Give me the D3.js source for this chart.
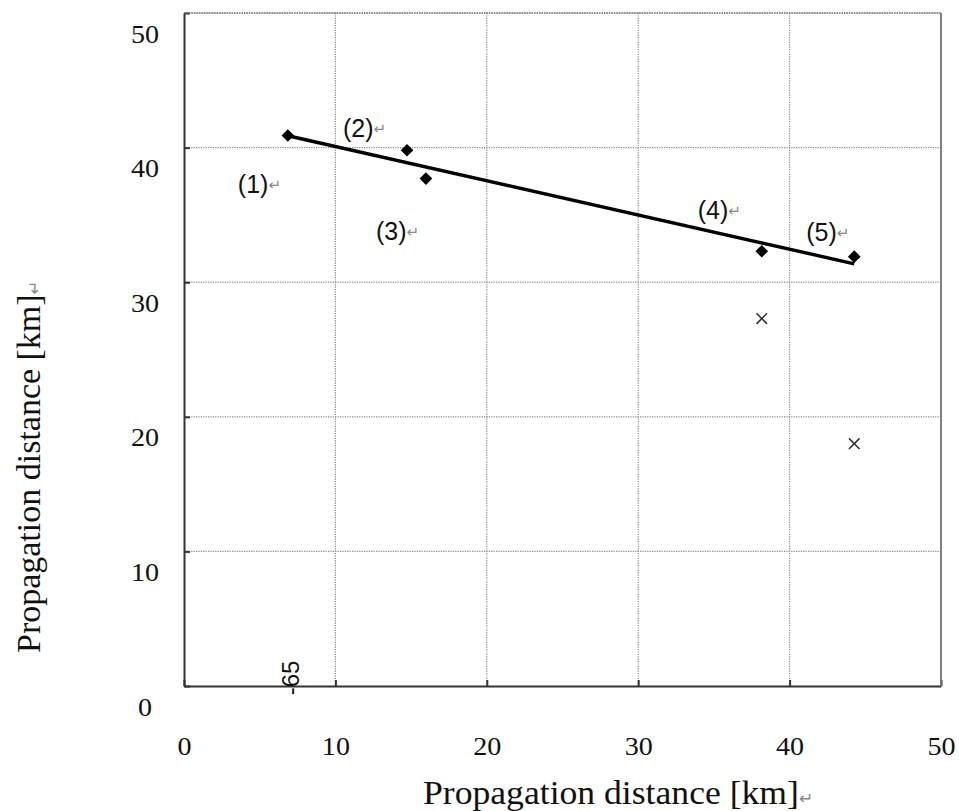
<!DOCTYPE html>
<html>
<head>
<meta charset="utf-8">
<script src="https://cdn.jsdelivr.net/npm/d3@7"></script>
<style>
  html, body { margin: 0; padding: 0; background: #fff; }
  svg { display: block; }
</style>
</head>
<body>
<script>
// Measured points (1)–(5) and the two reference points marked with ×
const pointLabels = ["(1)", "(2)", "(3)", "(4)", "(5)"];
const measuredX = [6.86, 14.73, 15.98, 38.16, 44.27];
const measuredY = [40.9, 39.8, 37.7, 32.3, 31.9];
const crossX = [38.16, 44.27];
const crossY = [27.3, 18.0];
const xTicks = [0, 10, 20, 30, 40, 50];
const yTicks = [0, 10, 20, 30, 40, 50];
const xTitle = "Propagation distance [km]";
const yTitle = "Propagation distance [km]";
const strayLabel = "-65";

const W = 959, H = 811;
const margin = { left: 184, right: 18, top: 13, bottom: 125 };
const sx = 1.08; // horizontal stretch of the text glyphs

const svg = d3.select("body").append("svg").attr("width", W).attr("height", H);

const x = d3.scaleLinear().domain([0, 50]).range([margin.left, W - margin.right]);
const y = d3.scaleLinear().domain([0, 50]).range([H - margin.bottom, margin.top]);

const serif = "'Liberation Serif', 'Times New Roman', serif";
const sans = "'Liberation Sans', Arial, sans-serif";

// dotted grid
const grid = svg.append("g").attr("stroke", "#8a8a8a").attr("stroke-width", 1.2)
  .attr("stroke-dasharray", "1.2,1.2");
grid.selectAll("line.v").data(xTicks.slice(1)).join("line")
  .attr("x1", d => x(d)).attr("x2", d => x(d))
  .attr("y1", y(50)).attr("y2", y(0));
grid.selectAll("line.h").data(yTicks.slice(1)).join("line")
  .attr("x1", x(0)).attr("x2", x(50))
  .attr("y1", d => y(d)).attr("y2", d => y(d));

// axes with short inward ticks
const xAxis = svg.append("g").attr("transform", `translate(0,${y(0)})`)
  .call(d3.axisBottom(x).tickValues(xTicks).tickSize(-6).tickSizeOuter(0));
const yAxis = svg.append("g").attr("transform", `translate(${x(0)},0)`)
  .call(d3.axisLeft(y).tickValues(yTicks).tickSize(-6).tickSizeOuter(0));

[xAxis, yAxis].forEach(a => {
  a.select(".domain").attr("stroke", "#333").attr("stroke-width", 2);
  a.selectAll(".tick line").attr("stroke", "#333").attr("stroke-width", 2);
  a.selectAll(".tick text").attr("font-family", serif).attr("font-size", 26)
    .attr("fill", "#111");
});
xAxis.selectAll(".tick text").attr("x", 0).attr("y", 0).attr("dy", 0)
  .attr("transform", `translate(0,69) scale(${sx},1)`);
yAxis.selectAll(".tick text").attr("x", 0).attr("y", 0).attr("dy", 0)
  .attr("text-anchor", "middle")
  .attr("transform", `translate(-39,29) scale(${sx},1)`);

// fitted trend line (least squares over the measured points)
const mx = d3.mean(measuredX), my = d3.mean(measuredY);
const slope = d3.sum(measuredX, (v, i) => (v - mx) * (measuredY[i] - my)) /
              d3.sum(measuredX, v => (v - mx) * (v - mx));
const icpt = my - slope * mx;
const xs = d3.extent(measuredX);
svg.append("path")
  .datum(xs.map(v => [v, icpt + slope * v]))
  .attr("d", d3.line().x(d => x(d[0])).y(d => y(d[1])))
  .attr("fill", "none").attr("stroke", "#000").attr("stroke-width", 3.4);

// diamonds
svg.append("g").selectAll("path").data(measuredX.map((v, i) => [v, measuredY[i]])).join("path")
  .attr("d", d3.symbol().type(d3.symbolSquare).size(80))
  .attr("transform", d => `translate(${x(d[0])},${y(d[1])}) rotate(45)`)
  .attr("fill", "#000");

// crosses
svg.append("g").selectAll("path").data(crossX.map((v, i) => [v, crossY[i]])).join("path")
  .attr("d", d3.symbol().type(d3.symbolX).size(75))
  .attr("transform", d => `translate(${x(d[0])},${y(d[1])})`)
  .attr("fill", "none").attr("stroke", "#333").attr("stroke-width", 1.6);

// point labels with paragraph marks
const labelOffsets = [[-50, 58], [-64, -13], [-50, 61], [-64, -32], [-48, -16]];
const lab = svg.append("g").selectAll("text").data(pointLabels).join("text")
  .attr("transform", (d, i) =>
    `translate(${x(measuredX[i]) + labelOffsets[i][0]},${y(measuredY[i]) + labelOffsets[i][1]})`)
  .attr("font-family", sans).attr("font-size", 25).attr("fill", "#111");
lab.append("tspan").text(d => d);
lab.append("tspan").text("\u21B5").attr("font-size", 15).attr("fill", "#888")
  .attr("font-family", "'DejaVu Sans', sans-serif").attr("dy", -3);

// stray rotated label on the x axis
svg.append("text")
  .attr("transform", `translate(${x(7)},${y(0) - 6}) rotate(-90)`)
  .attr("font-family", sans).attr("font-size", 24).attr("fill", "#111")
  .attr("dy", 9).attr("x", 2)
  .attr("text-anchor", "middle")
  .text(strayLabel);

// top and right frame
svg.append("line").attr("x1", x(0)).attr("x2", x(50)).attr("y1", y(50)).attr("y2", y(50))
  .attr("stroke", "#777").attr("stroke-width", 1.6).attr("stroke-dasharray", "1.5,1");
svg.append("line").attr("x1", x(50)).attr("x2", x(50)).attr("y1", y(50)).attr("y2", y(0))
  .attr("stroke", "#777").attr("stroke-width", 1.8);

// axis titles
const xt = svg.append("text")
  .attr("transform", `translate(423,${H - 7}) scale(${sx},1)`)
  .attr("text-anchor", "start").attr("font-family", serif).attr("font-size", 33)
  .attr("fill", "#111");
xt.append("tspan").text(xTitle);
xt.append("tspan").text("\u21B5").attr("font-size", 16).attr("fill", "#888")
  .attr("font-family", "'DejaVu Sans', sans-serif");

const yt = svg.append("text")
  .attr("transform", `translate(40,653) rotate(-90) scale(1.03,1.05)`)
  .attr("text-anchor", "start").attr("font-family", serif).attr("font-size", 33)
  .attr("fill", "#111");
yt.append("tspan").text(yTitle);
yt.append("tspan").text("\u21B5").attr("font-size", 16).attr("fill", "#888")
  .attr("font-family", "'DejaVu Sans', sans-serif");
</script>
</body>
</html>
